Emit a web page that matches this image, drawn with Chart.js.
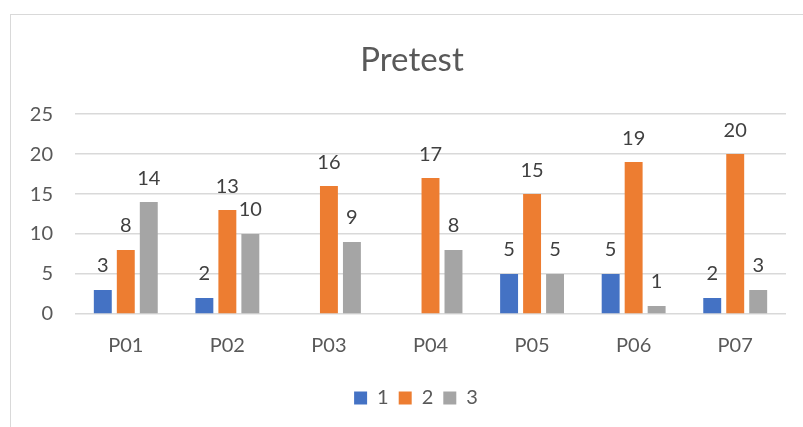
<!DOCTYPE html>
<html><head><meta charset="utf-8">
<script src="https://cdn.jsdelivr.net/npm/chart.js@4"></script>
<style>
html,body{margin:0;padding:0;background:#fff;overflow:hidden;width:803px;height:427px;}
#box{position:absolute;left:10px;top:14px;width:820px;height:440px;border:1px solid #d9d9d9;box-sizing:border-box;}
#wrap{position:absolute;left:1px;top:1px;width:790px;height:412px;}
</style></head>
<body>
<div id="box"><div id="wrap"><canvas id="c"></canvas></div></div>
<script>
const categories = ['P01','P02','P03','P04','P05','P06','P07'];
const seriesNames = ['1','2','3'];
const series1 = [3, 2, null, null, 5, 5, 2];
const series2 = [8, 13, 16, 17, 15, 19, 20];
const series3 = [14, 10, 9, 8, 5, 1, 3];
const yTicks = [0, 5, 10, 15, 20, 25];
const chartTitle = 'Pretest';

const FONT = 'Lato, "Open Sans", sans-serif';
const TXT = '#595959';

const labelPlugin = {
  id: 'barLabels',
  afterDatasetsDraw(chart) {
    const ctx = chart.ctx;
    ctx.save();
    ctx.font = '20px ' + FONT;
    ctx.fillStyle = '#404040';
    ctx.textAlign = 'center';
    ctx.textBaseline = 'middle';
    chart.data.datasets.forEach((ds, i) => {
      const meta = chart.getDatasetMeta(i);
      meta.data.forEach((bar, j) => {
        const v = ds.data[j];
        if (v === null || v === undefined) return;
        ctx.fillText(String(v), bar.x, bar.y - 24);
      });
    });
    ctx.restore();
  }
};

// Title and legend are centred on the whole chart box (slightly right of the canvas centre)
const shiftPlugin = {
  id: 'shiftBoxes',
  afterLayout(chart) {
    if (chart.titleBlock) { chart.titleBlock.left += 13; chart.titleBlock.right += 13; }
    if (chart.legend) { chart.legend.left += 17; chart.legend.right += 17; }
  }
};

new Chart(document.getElementById('c'), {
  type: 'bar',
  data: {
    labels: categories,
    datasets: [
      {label: seriesNames[0], data: series1, backgroundColor: '#4472C4'},
      {label: seriesNames[1], data: series2, backgroundColor: '#ED7D31'},
      {label: seriesNames[2], data: series3, backgroundColor: '#A5A5A5'}
    ]
  },
  options: {
    responsive: true,
    maintainAspectRatio: false,
    animation: false,
    devicePixelRatio: 1,
    categoryPercentage: 0.679,
    barPercentage: 0.78,
    layout: {padding: {left: 0, right: 16, top: 0, bottom: 10}},
    plugins: {
      title: {display: true, text: chartTitle, color: TXT,
        font: {family: FONT, size: 33, weight: 'normal'}, padding: {top: 25, bottom: 33.5}},
      legend: {position: 'bottom', labels: {color: TXT, font: {family: FONT, size: 20},
        boxWidth: 13, boxHeight: 13, padding: 10}},
      tooltip: {enabled: false}
    },
    scales: {
      x: {
        afterFit: s => { s.height = 64; },
        grid: {display: false, drawTicks: false},
        border: {display: false},
        ticks: {color: TXT, font: {family: FONT, size: 20}, padding: 20}
      },
      y: {
        min: 0, max: 25,
        afterBuildTicks: s => { s.ticks = yTicks.map(v => ({value: v})); },
        afterFit: s => { s.width = 63; },
        grid: {color: '#d9d9d9', lineWidth: 1.5, drawTicks: false},
        border: {display: false},
        ticks: {color: TXT, font: {family: FONT, size: 20}, padding: 22}
      }
    }
  },
  plugins: [labelPlugin, shiftPlugin]
});
</script>
</body></html>
